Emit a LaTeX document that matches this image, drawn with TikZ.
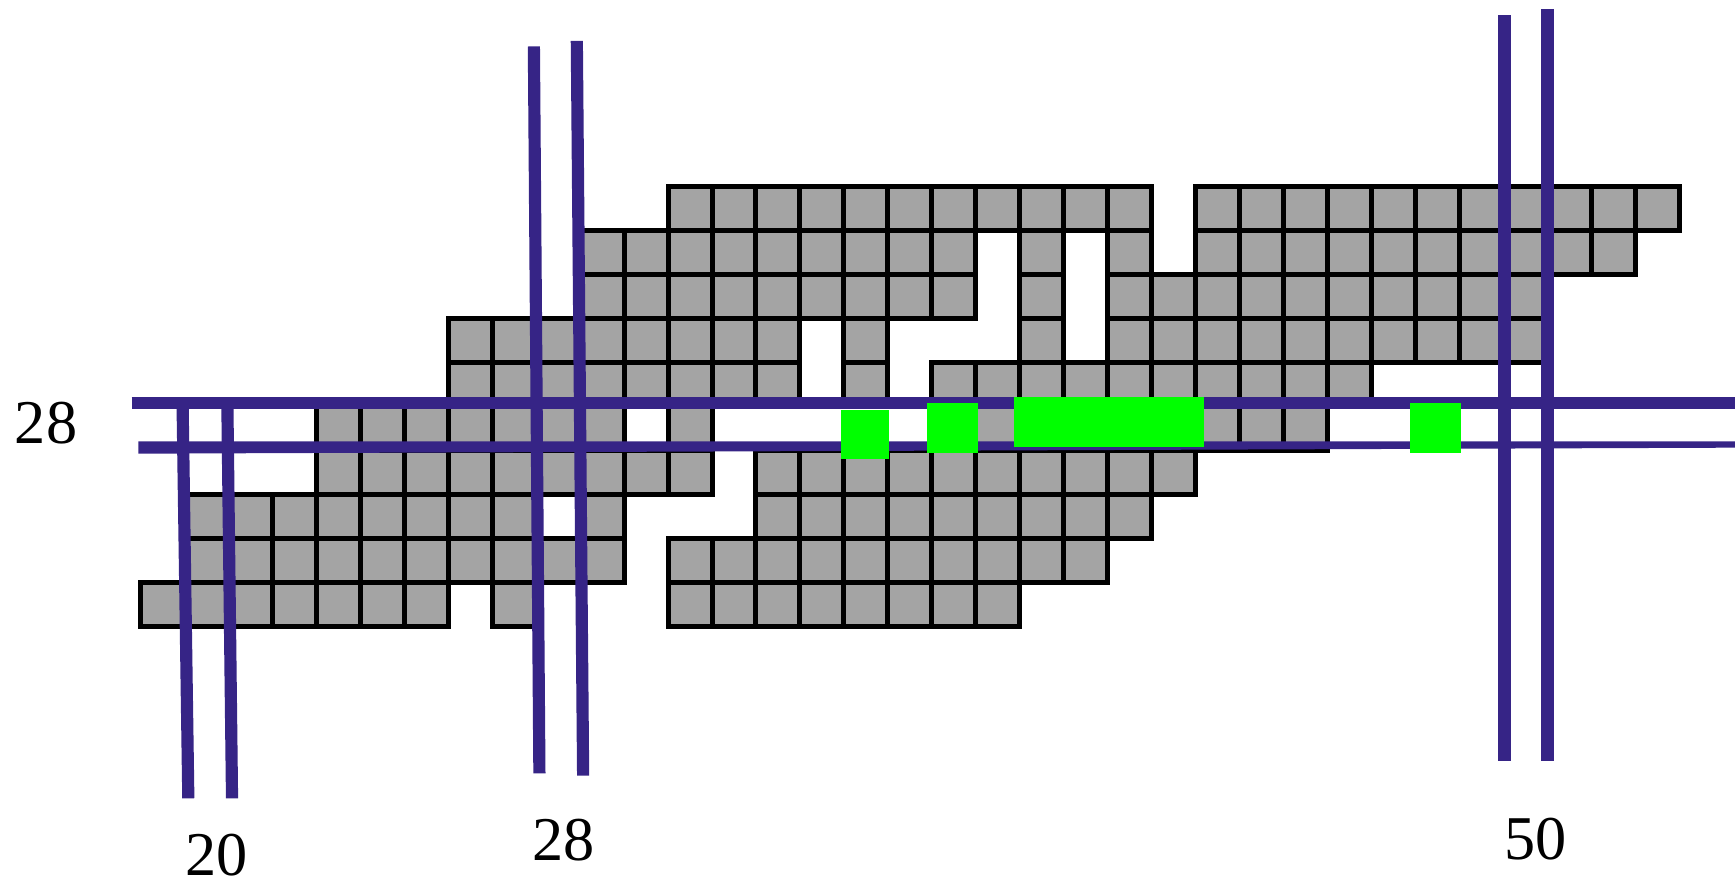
\documentclass[tikz,border=0pt]{standalone}
\usepackage{fontspec}
\setmainfont{Liberation Serif}
\usepackage{tikz}
\definecolor{gridgray}{RGB}{164,164,164}
\definecolor{cutblue}{RGB}{54,36,134}
\definecolor{hitgreen}{RGB}{0,255,0}

\begin{document}
\begin{tikzpicture}[x=0.01cm, y=-0.01cm,
    cell/.style={draw=black, fill=gridgray, line width=0.45mm},
    cut/.style={cutblue, line width=1.1mm},
    hit/.style={fill=hitgreen},
    lbl/.style={font=\fontsize{16}{19}\selectfont, inner sep=0pt}
]
\useasboundingbox (0,0) rectangle (1568,798);

% occupied cells: row / first column / last column
\foreach \r/\a/\b in {0/12/22, 0/24/34,
    1/10/18, 1/20/20, 1/22/22, 1/24/33,
    2/10/18, 2/20/20, 2/22/31,
    3/7/14, 3/16/16, 3/20/20, 3/22/31,
    4/7/14, 4/16/16, 4/18/27,
    5/4/10, 5/12/12, 5/19/19, 5/24/26,
    6/4/12, 6/14/23,
    7/1/8, 7/10/10, 7/14/22,
    8/1/10, 8/12/21,
    9/0/6, 9/8/8, 9/12/19}
  \foreach \c in {\a,...,\b}
    \draw[cell] ({127+39.73*\c},{168.7+39.73*\r}) rectangle ++(39.73,39.73);

% cut lines
\draw[cut] (119,364.5) -- (1568,364.5);
\fill[cutblue] (125,399) -- (1568,399) -- (1568,404.6) -- (125,410) -- cycle;
\draw[cut] (165,364) -- (170.2,721.5);
\draw[cut] (205.5,366) -- (209.7,721.5);
\draw[cut] (482.5,42) -- (487.5,699);
\draw[cut] (521.3,37) -- (527,701);
\draw[cut] (1359.7,14) -- (1359.7,687.5);
\draw[cut] (1398.6,8) -- (1398.6,687.5);

% hits on the row
\fill[hit] (760,371) rectangle (803.5,414.5);
\fill[hit] (838,364.5) rectangle (884,409.7);
\fill[hit] (916,359) rectangle (1088,404);
\fill[hit] (1274,364.5) rectangle (1320,409.7);

\node[lbl] (rowlbl) at (41.6,382.5) {28};
\node[lbl] (colA) at (195.5,772.5) {20};
\node[lbl] (colB) at (509,759) {28};
\node[lbl] (colC) at (1387.5,758) {50};
\end{tikzpicture}
\end{document}
